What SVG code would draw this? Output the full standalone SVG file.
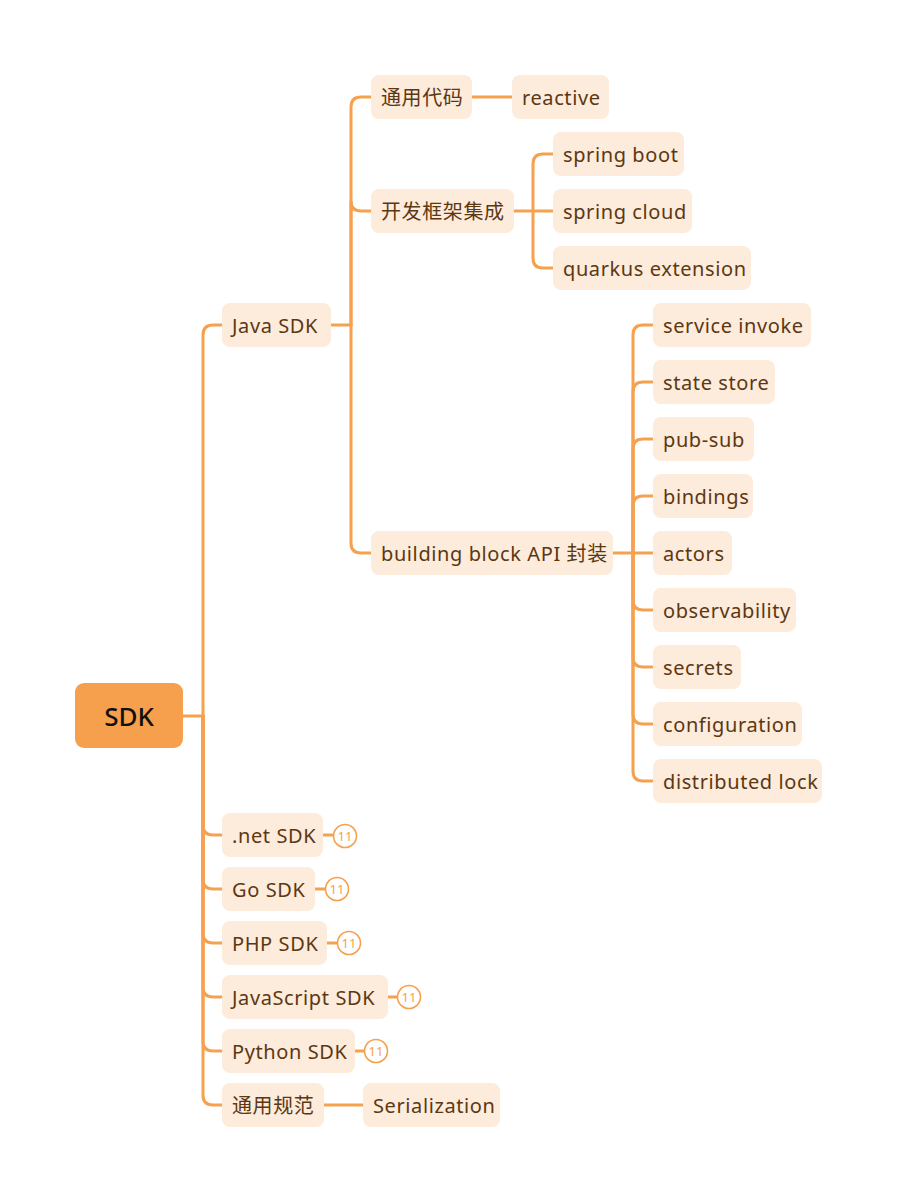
<svg xmlns="http://www.w3.org/2000/svg" width="897" height="1203" viewBox="0 0 897 1203">
<style>
.n rect{fill:#FDEBDB;}
.n text{font-family:"Noto Sans","Liberation Sans","Noto Sans CJK SC",sans-serif;font-size:20px;letter-spacing:0.6px;fill:#5C3812;dominant-baseline:central;}
.c path{fill:none;stroke:#F6A14F;stroke-width:3;stroke-linecap:round;}
.b circle{fill:#fff;stroke:#F6A14F;stroke-width:1.6;}
.b text{font-family:"Noto Sans","Liberation Sans",sans-serif;font-size:13px;fill:#F6A14F;text-anchor:middle;dominant-baseline:central;}
</style>
<rect width="897" height="1203" fill="#fff"/>
<g class="c" id="connectors">
<path d="M183,716 H203"/>
<path d="M203,716 V335 Q203,325 213,325 H222"/>
<path d="M203,716 V825 Q203,835 213,835 H222"/>
<path d="M203,716 V879 Q203,889 213,889 H222"/>
<path d="M203,716 V933 Q203,943 213,943 H222"/>
<path d="M203,716 V987 Q203,997 213,997 H222"/>
<path d="M203,716 V1041 Q203,1051 213,1051 H222"/>
<path d="M203,716 V1095 Q203,1105 213,1105 H222"/>
<path d="M331,325 H351"/>
<path d="M351,325 V107 Q351,97 361,97 H371"/>
<path d="M351,325 V201 Q351,211 361,211 H371"/>
<path d="M351,325 V543 Q351,553 361,553 H371"/>
<path d="M472,97 H512"/>
<path d="M514,211 H533"/>
<path d="M533,211 V164 Q533,154 543,154 H553"/>
<path d="M533,211 H553"/>
<path d="M533,211 V258 Q533,268 543,268 H553"/>
<path d="M613,553 H633"/>
<path d="M633,553 V335 Q633,325 643,325 H653"/>
<path d="M633,553 V392 Q633,382 643,382 H653"/>
<path d="M633,553 V449 Q633,439 643,439 H653"/>
<path d="M633,553 V506 Q633,496 643,496 H653"/>
<path d="M633,553 H653"/>
<path d="M633,553 V600 Q633,610 643,610 H653"/>
<path d="M633,553 V657 Q633,667 643,667 H653"/>
<path d="M633,553 V714 Q633,724 643,724 H653"/>
<path d="M633,553 V771 Q633,781 643,781 H653"/>
<path d="M323,835 H334"/>
<path d="M315,889 H326"/>
<path d="M327,943 H338"/>
<path d="M388,997 H398"/>
<path d="M355,1051 H365"/>
<path d="M324,1105 H363"/>
</g>
<g id="root">
<rect x="75" y="683" width="108" height="65" rx="9" fill="#F6A04D"/>
<text x="129" y="716" font-family="Noto Sans,Liberation Sans,sans-serif" font-size="26" font-weight="500" fill="#111" text-anchor="middle" dominant-baseline="central">SDK</text>
</g>
<g class="n" id="java"><rect x="222" y="303" width="109" height="44" rx="8"/><text x="232" y="325">Java SDK</text></g>
<g class="n" id="net"><rect x="222" y="813" width="101" height="44" rx="8"/><text x="232" y="835">.net SDK</text></g>
<g class="n" id="go"><rect x="222" y="867" width="93" height="44" rx="8"/><text x="232" y="889">Go SDK</text></g>
<g class="n" id="php"><rect x="222" y="921" width="105" height="44" rx="8"/><text x="232" y="943">PHP SDK</text></g>
<g class="n" id="js"><rect x="222" y="975" width="166" height="44" rx="8"/><text x="232" y="997">JavaScript SDK</text></g>
<g class="n" id="python"><rect x="222" y="1029" width="133" height="44" rx="8"/><text x="232" y="1051">Python SDK</text></g>
<g class="n" id="spec"><rect x="222" y="1083" width="102" height="44" rx="8"/><text x="232" y="1105">通用规范</text></g>
<g class="n" id="serialization"><rect x="363" y="1083" width="137" height="44" rx="8"/><text x="373" y="1105">Serialization</text></g>
<g class="n" id="common"><rect x="371" y="75" width="101" height="44" rx="8"/><text x="381" y="97">通用代码</text></g>
<g class="n" id="reactive"><rect x="512" y="75" width="97" height="44" rx="8"/><text x="522" y="97">reactive</text></g>
<g class="n" id="framework"><rect x="371" y="189" width="143" height="44" rx="8"/><text x="381" y="211">开发框架集成</text></g>
<g class="n" id="springboot"><rect x="553" y="132" width="131" height="44" rx="8"/><text x="563" y="154">spring boot</text></g>
<g class="n" id="springcloud"><rect x="553" y="189" width="139" height="44" rx="8"/><text x="563" y="211">spring cloud</text></g>
<g class="n" id="quarkus"><rect x="553" y="246" width="198" height="44" rx="8"/><text x="563" y="268">quarkus extension</text></g>
<g class="n" id="bbapi"><rect x="371" y="531" width="242" height="44" rx="8"/><text x="381" y="553">building block API 封装</text></g>
<g class="n" id="svcinvoke"><rect x="653" y="303" width="158" height="44" rx="8"/><text x="663" y="325">service invoke</text></g>
<g class="n" id="statestore"><rect x="653" y="360" width="122" height="44" rx="8"/><text x="663" y="382">state store</text></g>
<g class="n" id="pubsub"><rect x="653" y="417" width="101" height="44" rx="8"/><text x="663" y="439">pub-sub</text></g>
<g class="n" id="bindings"><rect x="653" y="474" width="100" height="44" rx="8"/><text x="663" y="496">bindings</text></g>
<g class="n" id="actors"><rect x="653" y="531" width="79" height="44" rx="8"/><text x="663" y="553">actors</text></g>
<g class="n" id="observability"><rect x="653" y="588" width="143" height="44" rx="8"/><text x="663" y="610">observability</text></g>
<g class="n" id="secrets"><rect x="653" y="645" width="88" height="44" rx="8"/><text x="663" y="667">secrets</text></g>
<g class="n" id="configuration"><rect x="653" y="702" width="149" height="44" rx="8"/><text x="663" y="724">configuration</text></g>
<g class="n" id="distlock"><rect x="653" y="759" width="169" height="44" rx="8"/><text x="663" y="781">distributed lock</text></g>
<g class="b" id="badge-net"><circle cx="345" cy="836" r="11.5"/><text x="345" y="836">11</text></g>
<g class="b" id="badge-go"><circle cx="337" cy="889" r="11.5"/><text x="337" y="889">11</text></g>
<g class="b" id="badge-php"><circle cx="349" cy="943" r="11.5"/><text x="349" y="943">11</text></g>
<g class="b" id="badge-js"><circle cx="409" cy="997" r="11.5"/><text x="409" y="997">11</text></g>
<g class="b" id="badge-python"><circle cx="376" cy="1051" r="11.5"/><text x="376" y="1051">11</text></g>
</svg>
